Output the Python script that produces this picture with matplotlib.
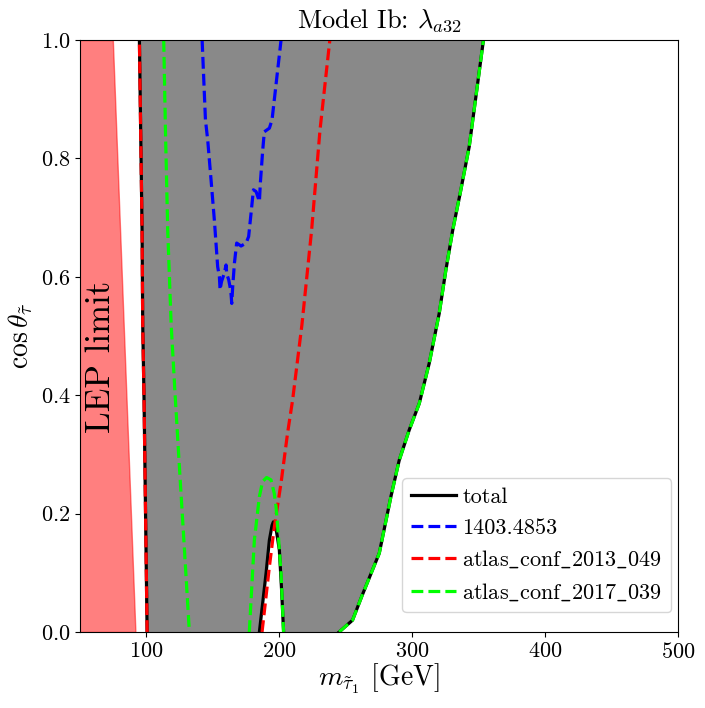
import numpy as np
import matplotlib
matplotlib.use('Agg')
import matplotlib.pyplot as plt

plt.rcParams['font.family'] = 'serif'
plt.rcParams['font.serif'] = ['cmr10']
plt.rcParams['mathtext.fontset'] = 'cm'
plt.rcParams['axes.formatter.use_mathtext'] = True

# LEP excluded band (right edge)
lep_cos = [0.0, 1.0]
lep_m = [91.7, 74.7]

# total exclusion: left edge, right edge, and the small allowed spike
left_cos = [0.0, 0.392, 0.519, 0.679, 1.0]
left_m = [100.5, 98.2, 97.2, 96.7, 94.7]

right_m = [245.0, 255.1, 262.0, 275.2, 284.0, 290.2, 297.7, 305.3, 312.8, 320.3,
           325.3, 330.5, 336.0, 342.9, 347.9, 353.6]
right_cos = [0.0, 0.02, 0.06, 0.133, 0.229, 0.29, 0.341, 0.386, 0.454, 0.538,
             0.611, 0.679, 0.74, 0.82, 0.904, 1.0]

spike_m = [185.0, 190.0, 192.5, 194.5, 195.5, 197.5, 200.0, 201.7, 203.2]
spike_cos = [0.0, 0.099, 0.155, 0.18, 0.186, 0.175, 0.139, 0.071, 0.0]

# 1403.4853
blue_m = [141.9, 144.4, 146.1, 148.6, 151.1, 153.6, 154.9, 155.4, 156.5, 158.6,
          159.9, 160.4, 161.9, 162.9, 163.7, 164.2, 164.9, 166.2, 167.9, 171.2,
          175.0, 176.9, 178.7, 180.5, 182.5, 185.0, 185.7, 187.5, 188.7, 192.5,
          194.5, 201.3]
blue_cos = [1.0, 0.865, 0.831, 0.764, 0.696, 0.617, 0.6, 0.578, 0.592, 0.606,
            0.62, 0.605, 0.595, 0.583, 0.57, 0.555, 0.583, 0.623, 0.657, 0.652,
            0.657, 0.668, 0.707, 0.747, 0.744, 0.727, 0.758, 0.814, 0.845, 0.851,
            0.865, 1.0]

# atlas_conf_2013_049 (second branch)
red_m = [187.0, 192.5, 196.2, 201.3, 206.2, 210.0, 217.0, 224.3, 230.6, 238.0]
red_cos = [0.0, 0.11, 0.177, 0.252, 0.336, 0.392, 0.519, 0.679, 0.848, 1.0]

# atlas_conf_2017_039
green1_m = [113.0, 114.3, 116.0, 118.6, 121.8, 124.8, 128.6, 132.3]
green1_cos = [1.0, 0.848, 0.679, 0.519, 0.392, 0.279, 0.139, 0.0]
green2_m = [177.4, 181.2, 185.0, 187.4, 190.4, 193.7, 196.2, 197.5, 199.5, 201.3, 203.2]
green2_cos = [0.0, 0.155, 0.229, 0.254, 0.261, 0.257, 0.234, 0.212, 0.155, 0.099, 0.0]

fig = plt.figure(figsize=(7.05, 7.08), dpi=100)
ax = fig.add_axes([80 / 705, 76 / 708, 598 / 705, 592 / 708])

ax.fill_betweenx(lep_cos, 40, lep_m, color='red', alpha=0.5)
ax.text(66, 0.465, 'LEP limit', rotation=90, fontsize=25, ha='center', va='center')

# grey excluded region
poly_m = left_m + right_m[::-1] + spike_m[::-1]
poly_cos = left_cos + right_cos[::-1] + spike_cos[::-1]
ax.fill(poly_m, poly_cos, color='#898989', lw=0)

lw = 2.3
ax.plot(left_m, left_cos, 'k-', lw=lw, label='total')
ax.plot(right_m, right_cos, 'k-', lw=lw)
ax.plot(spike_m, spike_cos, 'k-', lw=lw)

ax.plot(blue_m, blue_cos, '--', color='blue', lw=lw, label='1403.4853')
ax.plot(left_m, left_cos, '--', color='red', lw=lw, label=r'atlas$\_$conf$\_$2013$\_$049')
ax.plot(red_m, red_cos, '--', color='red', lw=lw)
ax.plot(green1_m, green1_cos, '--', color='lime', lw=lw, label=r'atlas$\_$conf$\_$2017$\_$039')
ax.plot(green2_m, green2_cos, '--', color='lime', lw=lw)
ax.plot(right_m, right_cos, '--', color='lime', lw=lw)

ax.set_xlim(50, 500)
ax.set_ylim(0, 1)
ax.set_xticks([100, 200, 300, 400, 500])
ax.set_yticks(np.arange(0, 1.01, 0.2))
ax.tick_params(labelsize=16)
ax.set_xlabel(r'$m_{\tilde{\tau}_1}$ [GeV]', fontsize=20, labelpad=0)
ax.set_ylabel(r'$\cos\theta_{\tilde{\tau}}$', fontsize=20)
ax.set_title(r'Model Ib: $\lambda_{a32}$', fontsize=19, pad=9)
ax.legend(loc='lower right', fontsize=16, handletextpad=0.3, borderaxespad=0,
          bbox_to_anchor=(1 - 7 / 598, 20 / 592))

fig.savefig('out.png', dpi=100)
